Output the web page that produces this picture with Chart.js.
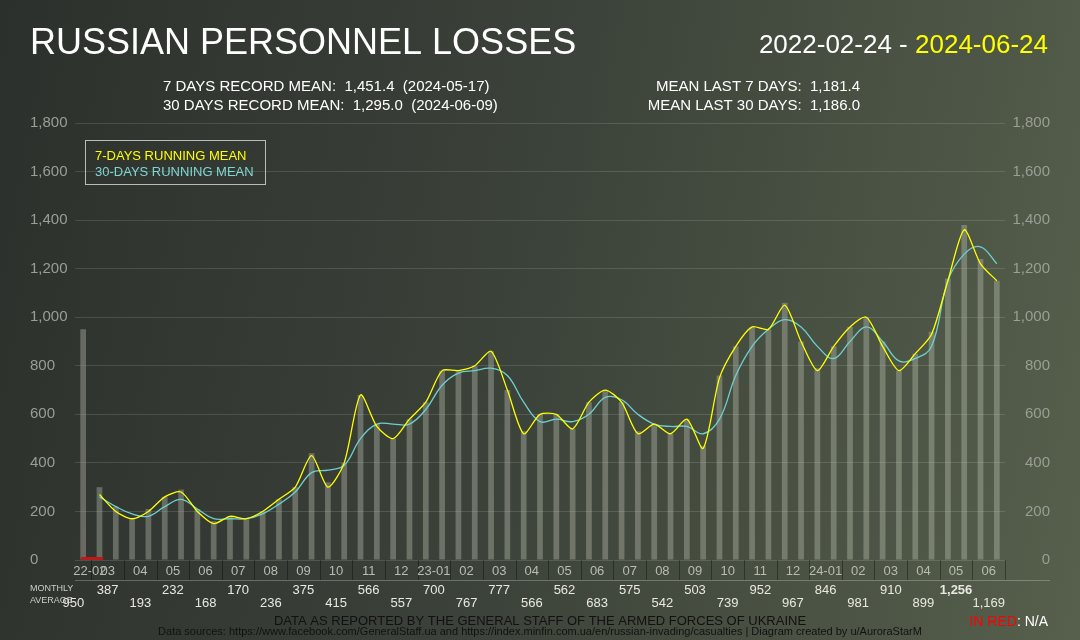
<!DOCTYPE html>
<html>
<head>
<meta charset="utf-8">
<script src="https://cdn.jsdelivr.net/npm/chart.js@4"></script>
<style>
  html, body { margin: 0; padding: 0; }
  body { width: 1080px; height: 640px; background: linear-gradient(100deg, #2c302c 0%, #3c433a 50%, #56604c 100%); }
  canvas { display: block; }
</style>
</head>
<body>
<canvas id="chart" width="1080" height="640"></canvas>
<script>
// months shown on the x axis, and the monthly average under each
const months = ['22-02', '03', '04', '05', '06', '07', '08', '09', '10', '11', '12', '23-01', '02', '03', '04',
  '05', '06', '07', '08', '09', '10', '11', '12', '24-01', '02', '03', '04', '05', '06'];
const monthlyAvg = [950, 387, 193, 232, 168, 170, 236, 375, 415, 566, 557, 700, 767, 777, 566,
  562, 683, 575, 542, 503, 739, 952, 967, 846, 981, 910, 899, 1256, 1169];

// half-month samples (Feb 2022 gets one slot, every later month two)
const slotLabels = ['22-02a'];
for (let m = 1; m < months.length; m++) slotLabels.push(months[m] + 'a', months[m] + 'b');

const dailyBars = [950,
  300, 220, 170, 210, 260, 290, 210, 160, 180, 170, 200, 250, 300, 440, 320, 400,
  680, 560, 500, 580, 650, 780, 780, 800, 860, 700, 530, 600, 600, 540, 650, 700,
  650, 530, 560, 520, 580, 470, 760, 880, 960, 950, 1060, 900, 790, 880, 960, 1000,
  900, 780, 850, 940, 1160, 1380, 1240, 1150];
const sevenDay = [null,
  270, 200, 170, 200, 260, 280, 200, 150, 180, 170, 200, 250, 300, 430, 300, 400,
  680, 550, 500, 580, 650, 780, 780, 800, 860, 700, 520, 600, 600, 540, 650, 700,
  650, 520, 560, 520, 580, 460, 750, 880, 960, 950, 1050, 900, 780, 880, 960, 1000,
  880, 780, 850, 930, 1150, 1360, 1220, 1150];
const thirtyDay = [null,
  260, 220, 190, 180, 220, 250, 210, 170, 170, 170, 190, 230, 280, 360, 370, 390,
  500, 560, 560, 560, 620, 720, 770, 780, 790, 760, 650, 570, 580, 570, 600, 670,
  660, 600, 560, 550, 550, 520, 580, 760, 880, 950, 990, 960, 880, 830, 900, 960,
  900, 820, 830, 880, 1150, 1260, 1290, 1220];

const barColors = dailyBars.map((v, i) => i === 0 ? 'rgba(150,150,140,0.55)' : 'rgba(190,195,180,0.38)');

const decor = {
  id: 'decor',
  afterDraw(chart) {
    const ctx = chart.ctx;
    const x = chart.scales.x;
    const area = chart.chartArea;
    ctx.save();
    ctx.textBaseline = 'middle';

    // title and date range
    ctx.fillStyle = '#ffffff';
    ctx.font = '36px Arial, "Liberation Sans"';
    ctx.textAlign = 'left';
    ctx.fillText('RUSSIAN PERSONNEL LOSSES', 30, 44);
    ctx.font = '26px Arial, "Liberation Sans"';
    ctx.textAlign = 'right';
    ctx.fillStyle = '#ffff00';
    ctx.fillText('2024-06-24', 1048, 46);
    const w = ctx.measureText('2024-06-24').width;
    ctx.fillStyle = '#ffffff';
    ctx.fillText('2022-02-24 - ', 1048 - w, 46);

    // record stats
    ctx.font = '15px Arial, "Liberation Sans"';
    ctx.textAlign = 'left';
    ctx.fillText('7 DAYS RECORD MEAN:  1,451.4  (2024-05-17)', 163, 87);
    ctx.fillText('30 DAYS RECORD MEAN:  1,295.0  (2024-06-09)', 163, 106);
    ctx.textAlign = 'right';
    ctx.fillText('MEAN LAST 7 DAYS:  1,181.4', 860, 87);
    ctx.fillText('MEAN LAST 30 DAYS:  1,186.0', 860, 106);

    // legend box
    ctx.strokeStyle = '#bbbbbb';
    ctx.lineWidth = 1;
    ctx.strokeRect(85.5, 140.5, 180, 44);
    ctx.font = '13px Arial, "Liberation Sans"';
    ctx.textAlign = 'left';
    ctx.fillStyle = '#ffff00';
    ctx.fillText('7-DAYS RUNNING MEAN', 95, 156);
    ctx.fillStyle = '#7fd6d6';
    ctx.fillText('30-DAYS RUNNING MEAN', 95, 172);

    // small red N/A marks at the very start
    ctx.fillStyle = '#c01818';
    ctx.fillRect(x.getPixelForValue(0) - 2, area.bottom - 3, 22, 3);

    // month label row
    const half = (x.getPixelForValue(1) - x.getPixelForValue(0)) / 2;
    ctx.strokeStyle = 'rgba(255,255,255,0.25)';
    ctx.beginPath();
    ctx.moveTo(area.left, area.bottom + 20.5);
    ctx.lineTo(1050, area.bottom + 20.5);
    ctx.stroke();
    for (let m = 0; m < months.length; m++) {
      const first = m === 0 ? 0 : 2 * m - 1;
      const last = m === 0 ? 0 : 2 * m;
      const x0 = x.getPixelForValue(first) - half;
      const x1 = x.getPixelForValue(last) + half;
      const cx = m === 0 ? x1 - 18 : (x0 + x1) / 2;
      ctx.font = '13px Arial, "Liberation Sans"';
      ctx.fillStyle = '#b8bcb0';
      ctx.fillText(months[m], cx, area.bottom + 11);
      ctx.strokeStyle = 'rgba(0,0,0,0.35)';
      ctx.beginPath();
      ctx.moveTo(Math.round(x1) + 0.5, area.bottom);
      ctx.lineTo(Math.round(x1) + 0.5, area.bottom + 20);
      ctx.stroke();
      // monthly average
      const v = monthlyAvg[m];
      ctx.fillStyle = '#e8e8e0';
      ctx.font = (m === 27 ? 'bold ' : '') + '13px Arial, "Liberation Sans"';
      ctx.textAlign = 'center';
      ctx.fillText(v.toLocaleString('en-US'), cx, m % 2 === 0 ? area.bottom + 43 : area.bottom + 30);
    }
    ctx.font = '9px Arial, "Liberation Sans"';
    ctx.textAlign = 'left';
    ctx.fillStyle = '#cccccc';
    ctx.fillText('MONTHLY', 30, 589);
    ctx.fillText('AVERAGE', 30, 601);

    // footer
    ctx.textAlign = 'center';
    ctx.fillStyle = '#111111';
    ctx.font = '13px Arial, "Liberation Sans"';
    ctx.fillText('DATA AS REPORTED BY THE GENERAL STAFF OF THE ARMED FORCES OF UKRAINE', 540, 621);
    ctx.font = '11px Arial, "Liberation Sans"';
    ctx.fillText('Data sources: https://www.facebook.com/GeneralStaff.ua and https://index.minfin.com.ua/en/russian-invading/casualties | Diagram created by u/AuroraStarM', 540, 632);
    ctx.font = '14px Arial, "Liberation Sans"';
    ctx.textAlign = 'right';
    ctx.fillStyle = '#ffffff';
    ctx.fillText(': N/A', 1048, 622);
    const nw = ctx.measureText(': N/A').width;
    ctx.fillStyle = '#ff0000';
    ctx.fillText('IN RED', 1048 - nw, 622);
    ctx.restore();
  }
};

const tickFmt = v => v.toLocaleString('en-US');

new Chart(document.getElementById('chart'), {
  data: {
    labels: slotLabels,
    datasets: [
      { type: 'line', data: sevenDay, borderColor: '#ffff00', borderWidth: 1.3, pointRadius: 0, tension: 0.25, order: 1 },
      { type: 'line', data: thirtyDay, borderColor: '#6fcfcf', borderWidth: 1.3, pointRadius: 0, tension: 0.4, order: 2 },
      { type: 'bar', data: dailyBars, backgroundColor: barColors, barPercentage: 0.35, categoryPercentage: 1, order: 3 }
    ]
  },
  options: {
    responsive: false,
    animation: false,
    layout: { padding: { top: 123, bottom: 80, left: 30, right: 30 } },
    plugins: { legend: { display: false }, tooltip: { enabled: false } },
    datasets: { bar: { grouped: false } },
    scales: {
      x: { display: false },
      y: {
        position: 'left', min: 0, max: 1800,
        afterFit(s) { s.width = 45; },
        grid: { color: 'rgba(255,255,255,0.13)', drawTicks: false },
        border: { display: false },
        ticks: { stepSize: 200, color: '#9a9e94', font: { family: 'Arial', size: 15 }, crossAlign: 'far', padding: 8, callback: tickFmt }
      },
      y2: {
        position: 'right', min: 0, max: 1800,
        afterFit(s) { s.width = 45; },
        grid: { display: false },
        border: { display: false },
        ticks: { stepSize: 200, color: '#9a9e94', font: { family: 'Arial', size: 15 }, crossAlign: 'far', padding: 8, callback: tickFmt }
      }
    }
  },
  plugins: [decor]
});
</script>
</body>
</html>
